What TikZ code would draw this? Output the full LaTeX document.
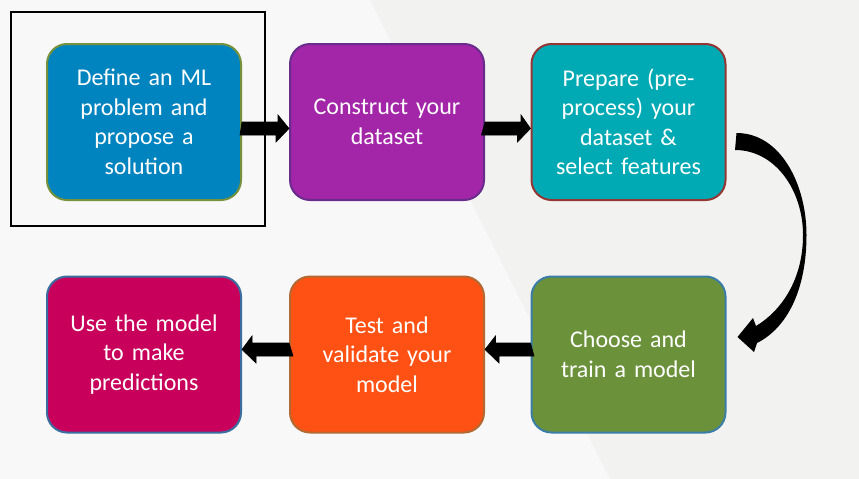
\documentclass[tikz,border=0pt]{standalone}
\usepackage{fontspec}
\setmainfont{Carlito}
\usetikzlibrary{calc}
\definecolor{bgA}{HTML}{F2F2F1}
\definecolor{bgB}{HTML}{F8F8F8}
\definecolor{cA}{HTML}{0084C0}
\definecolor{bA}{HTML}{76923C}
\definecolor{cB}{HTML}{A326A8}
\definecolor{bB}{HTML}{6A2C8C}
\definecolor{cC}{HTML}{00AAB4}
\definecolor{bC}{HTML}{943634}
\definecolor{cD}{HTML}{6B923A}
\definecolor{bD}{HTML}{3A7EA8}
\definecolor{cE}{HTML}{FF5114}
\definecolor{bE}{HTML}{B36A32}
\definecolor{cF}{HTML}{C8005C}
\definecolor{bF}{HTML}{3A6EA0}
\tikzset{
  stepbox/.style={rounded corners=20pt, line width=2pt, minimum width=194pt,
    minimum height=156pt, text width=185pt, align=center, text=white,
    font=\fontsize{24}{29.5}\selectfont, inner sep=0pt},
  blockarrow/.style={fill=black, draw=black, line width=0.6pt, line join=miter}
}
\begin{document}
\begin{tikzpicture}[x=1pt,y=-1pt]
\useasboundingbox (0,0) rectangle (859,479);
\fill[bgA] (0,0) rectangle (859,479);
\fill[bgB] (0,0) -- (370,0) -- (610,479) -- (0,479) -- cycle;

\draw[line width=2.5pt, black] (11,12) rectangle (265,226);

\node[stepbox, fill=cA, draw=bA] (n1) at (144,122) {Define an ML\\problem and\\propose a\\solution};
\node[stepbox, fill=cB, draw=bB] (n2) at (387,122) {Construct your\\dataset};
\node[stepbox, fill=cC, draw=bC] (n3) at (628.5,122) {Prepare (pre-\\process) your\\dataset \&\\select features};
\node[stepbox, fill=cD, draw=bD] (n4) at (628.5,354.5) {Choose and\\train a model};
\node[stepbox, fill=cE, draw=bE] (n5) at (387,354.5) {Test and\\validate your\\model};
\node[stepbox, fill=cF, draw=bF] (n6) at (144,354.5) {Use the model\\to make\\predictions};

% straight block arrows (shaft 13pt, head 27pt x 13pt)
\path (n1.east) ++(0,6.5) coordinate (a1s);
\fill[blockarrow] (a1s) ++(0,-6.5) -- ++(36,0) -- ++(0,-7) -- (n2.west |- a1s) -- ++(-13,13.5) -- ++(0,-7) -- ++(-36,0) -- cycle;
\path (n2.east) ++(0,6.5) coordinate (a2s);
\fill[blockarrow] (a2s) ++(0,-6.5) -- ++(36,0) -- ++(0,-7) -- (n3.west |- a2s) -- ++(-13,13.5) -- ++(0,-7) -- ++(-36,0) -- cycle;

\path (n4.west) ++(0,-5) coordinate (a3s);
\fill[blockarrow] (a3s) ++(0,-6.5) -- ++(-35,0) -- ++(0,-7) -- (n5.east |- a3s) -- ++(14,13.5) -- ++(0,-7) -- ++(35,0) -- cycle;
\path (n5.west) ++(0,-5) coordinate (a4s);
\fill[blockarrow] (a4s) ++(0,-6.5) -- ++(-37,0) -- ++(0,-7) -- (n6.east |- a4s) -- ++(14,13.5) -- ++(0,-7) -- ++(37,0) -- cycle;

% curved arrow from n3 to n4
\coordinate (ct) at (n3.east |- 0,133);
\coordinate (ch) at (n4.east |- 0,337);
\fill[black] (ct) ++(10,0) .. controls (781,133) and (806.5,185) .. (806.5,235)
  .. controls (806.5,290) and (787,328) .. (757,343)
  -- (754,352) -- ($(ch)+(11,0)$) -- (753,318) -- (756,326)
  .. controls (781,311) and (803,280) .. (803,235)
  .. controls (803,190) and (775,150) .. (735,150) -- cycle;
\end{tikzpicture}
\end{document}
